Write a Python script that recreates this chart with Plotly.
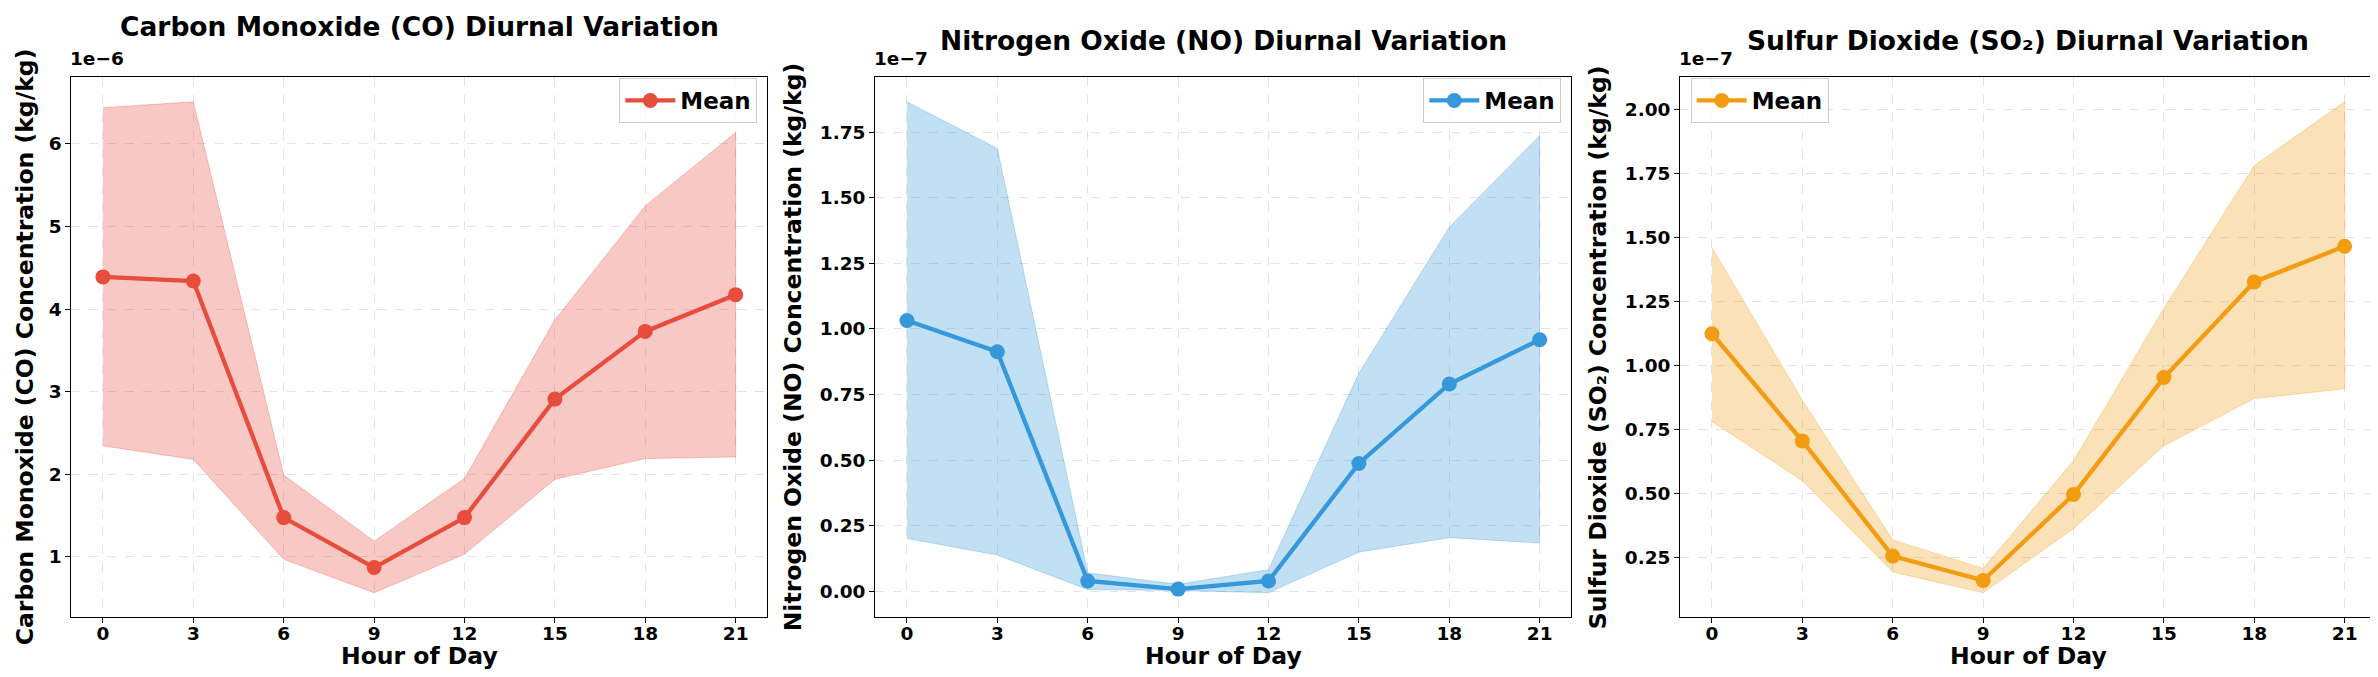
import plotly.graph_objects as go

# ---------------- data ----------------
hours = [0, 3, 6, 9, 12, 15, 18, 21]
hour_ticks = ["0", "3", "6", "9", "12", "15", "18", "21"]

# CO, units of 1e-6 kg/kg
co_mean = [4.39, 4.34, 1.475, 0.87, 1.475, 2.91, 3.73, 4.175]
co_upper = [6.44, 6.51, 1.99, 1.19, 1.95, 3.87, 5.25, 6.14]
co_lower = [2.345, 2.18, 0.97, 0.565, 1.03, 1.94, 2.19, 2.21]

# NO, units of 1e-7 kg/kg
no_mean = [1.032, 0.913, 0.039, 0.008, 0.039, 0.487, 0.790, 0.959]
no_upper = [1.866, 1.688, 0.070, 0.026, 0.082, 0.831, 1.388, 1.737]
no_lower = [0.201, 0.138, 0.006, 0.003, -0.006, 0.149, 0.204, 0.184]

# SO2, units of 1e-7 kg/kg
so2_mean = [1.124, 0.706, 0.257, 0.162, 0.497, 0.953, 1.326, 1.465]
so2_upper = [1.460, 0.865, 0.320, 0.209, 0.629, 1.223, 1.780, 2.028]
so2_lower = [0.782, 0.551, 0.195, 0.114, 0.364, 0.687, 0.871, 0.909]

titles = ["Carbon Monoxide (CO) Diurnal Variation",
          "Nitrogen Oxide (NO) Diurnal Variation",
          "Sulfur Dioxide (SO\u2082) Diurnal Variation"]
ylabels = ["Carbon Monoxide (CO) Concentration (kg/kg)",
           "Nitrogen Oxide (NO) Concentration (kg/kg)",
           "Sulfur Dioxide (SO\u2082) Concentration (kg/kg)"]
offsets = ["1e\u22126", "1e\u22127", "1e\u22127"]
colors = ["#e74c3c", "#3498db", "#f39c12"]
fills = ["rgba(231,76,60,0.3)", "rgba(52,152,219,0.3)", "rgba(243,156,18,0.3)"]

# ---------------- layout geometry (pixels) ----------------
W, H = 2378, 677
ax_left = [63.3, 867.3, 1672.3]
ax_w = 696.0
ax_top, ax_bot = 69.3, 609.3
title_y = [19, 33, 33]
ylab_x = [17, 785, 1590]

def px(x):
    return x / W

def py(y):
    return 1 - y / H

FONT = "DejaVu Sans"
series = [(co_mean, co_upper, co_lower), (no_mean, no_upper, no_lower),
          (so2_mean, so2_upper, so2_lower)]
yfmt = ["d", ".2f", ".2f"]
ydtick = [1, 0.25, 0.25]

fig = go.Figure()
annotations = []
for i, (m, up, lo) in enumerate(series):
    xa = "x" if i == 0 else f"x{i+1}"
    ya = "y" if i == 0 else f"y{i+1}"
    leg = "legend" if i == 0 else f"legend{i+1}"
    fig.add_trace(go.Scatter(
        x=hours + hours[::-1], y=up + lo[::-1], fill="toself",
        fillcolor=fills[i], line=dict(color=fills[i], width=1),
        mode="lines", showlegend=False, hoverinfo="skip",
        xaxis=xa, yaxis=ya))
    fig.add_trace(go.Scatter(
        x=hours, y=m, mode="lines+markers", name="Mean",
        line=dict(color=colors[i], width=4.3),
        marker=dict(color=colors[i], size=15),
        xaxis=xa, yaxis=ya, legend=leg))

    lo_all = min(lo)
    hi_all = max(up)
    span = hi_all - lo_all
    yr = [lo_all - 0.05 * span, hi_all + 0.05 * span]

    dom = [px(ax_left[i]), px(ax_left[i] + ax_w)]
    axis_common = dict(showline=True, linecolor="black", linewidth=1.2, mirror=True,
                       ticks="outside", ticklen=5, tickwidth=1.2, tickcolor="black",
                       showgrid=True, gridcolor="rgba(176,176,176,0.35)", griddash="dash",
                       gridwidth=1, zeroline=False,
                       tickfont=dict(family=FONT, size=18.5, color="black", weight="bold"))
    fig.update_layout(**{
        ("xaxis" if i == 0 else f"xaxis{i+1}"): dict(
            domain=dom, anchor=ya, range=[-1.05, 22.05], ticklabelstandoff=-6,
            tickmode="array", tickvals=hours, ticktext=hour_ticks, **axis_common),
        ("yaxis" if i == 0 else f"yaxis{i+1}"): dict(
            domain=[py(ax_bot), py(ax_top)], anchor=xa, range=yr,
            dtick=ydtick[i], tick0=0, tickformat=yfmt[i], **axis_common),
    })

    cx = ax_left[i] + ax_w / 2
    annotations.append(dict(text=titles[i], x=px(cx), y=py(title_y[i]), xref="paper", yref="paper",
                            xanchor="center", yanchor="middle", showarrow=False,
                            font=dict(family=FONT, size=26.5, color="black", weight="bold")))
    annotations.append(dict(text="Hour of Day", x=px(cx), y=py(648), xref="paper", yref="paper",
                            xanchor="center", yanchor="middle", showarrow=False,
                            font=dict(family=FONT, size=23.5, color="black", weight="bold")))
    annotations.append(dict(text=ylabels[i], x=px(ylab_x[i]), y=py((ax_top + ax_bot) / 2),
                            xref="paper", yref="paper", textangle=-90,
                            xanchor="center", yanchor="middle", showarrow=False,
                            font=dict(family=FONT, size=23.5, color="black", weight="bold")))
    annotations.append(dict(text=offsets[i], x=px(ax_left[i]), y=py(ax_top), xref="paper", yref="paper",
                            xanchor="left", yanchor="bottom", xshift=-3, yshift=6, showarrow=False,
                            font=dict(family=FONT, size=18.5, color="black", weight="bold")))

legend_common = dict(bgcolor="rgba(255,255,255,0.8)", bordercolor="#cccccc", borderwidth=1,
                     font=dict(family=FONT, size=23, color="black", weight="bold"),
                     itemwidth=50, yanchor="top", y=py(70))
fig.update_layout(
    width=W, height=H,
    margin=dict(l=0, r=0, t=0, b=0),
    paper_bgcolor="white", plot_bgcolor="white",
    annotations=annotations,
    legend=dict(x=px(749.3), xanchor="right", **legend_common),
    legend2=dict(x=px(1553.3), xanchor="right", **legend_common),
    legend3=dict(x=px(1682.7), xanchor="left", **legend_common),
)

fig.write_html("out.html")
